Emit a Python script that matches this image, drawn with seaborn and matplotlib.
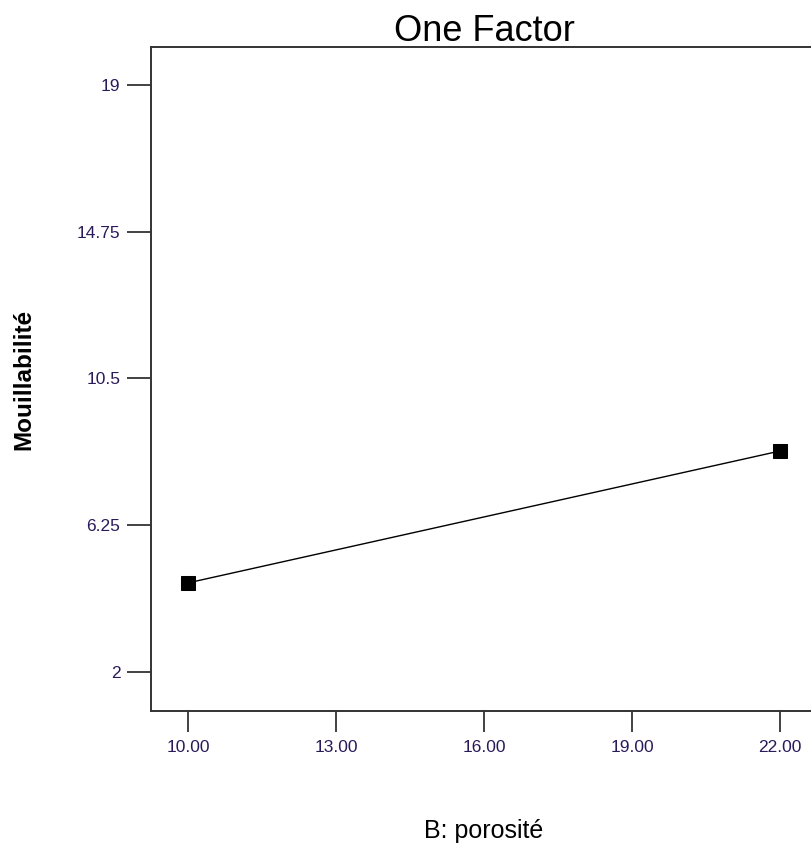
import matplotlib
matplotlib.use("Agg")
import matplotlib.pyplot as plt
import seaborn as sns
import pandas as pd

porosity = [10.0, 22.0]
wettability = [4.58, 8.40]
x_ticks = [10.0, 13.0, 16.0, 19.0, 22.0]
x_tick_labels = ["10.00", "13.00", "16.00", "19.00", "22.00"]
y_ticks = [2, 6.25, 10.5, 14.75, 19]
y_tick_labels = ["2", "6.25", "10.5", "14.75", "19"]

sns.set_style("white")
plt.rcParams["font.family"] = ["Liberation Sans", "DejaVu Sans"]

df = pd.DataFrame({"B: porosité": porosity, "Mouillabilité": wettability})

fig = plt.figure(figsize=(8.12, 8.57), dpi=100)
ax = fig.add_axes([151/812, 1-711/857, 666/812, (711-47)/857])

sns.lineplot(data=df, x="B: porosité", y="Mouillabilité", ax=ax,
             color="black", linewidth=1.0, marker="s", markersize=10,
             markerfacecolor="black", markeredgecolor="black")

ax.set_xlim(9.25, 22.75)
ax.set_ylim(0.87, 20.1)
ax.set_xticks(x_ticks)
ax.set_xticklabels(x_tick_labels)
ax.set_yticks(y_ticks)
ax.set_yticklabels(y_tick_labels)
ax.tick_params(axis="both", direction="out", length=15, width=1.3,
               color="#333333", labelsize=12.5, labelcolor="#2a1a5a", pad=6,
               bottom=True, left=True)
ax.tick_params(axis="y", length=17, pad=5)
for s in ["left", "top", "bottom"]:
    ax.spines[s].set_color("#333333")
    ax.spines[s].set_linewidth(1.4)
ax.spines["right"].set_visible(False)

ax.set_xlabel("B: porosité", fontsize=18, color="black", labelpad=46)
ax.set_ylabel("Mouillabilité", fontsize=17.5, fontweight="bold", color="black", labelpad=30)
ax.set_title("One Factor", fontsize=26, color="black", pad=4)

fig.savefig("out.png", dpi=100)
